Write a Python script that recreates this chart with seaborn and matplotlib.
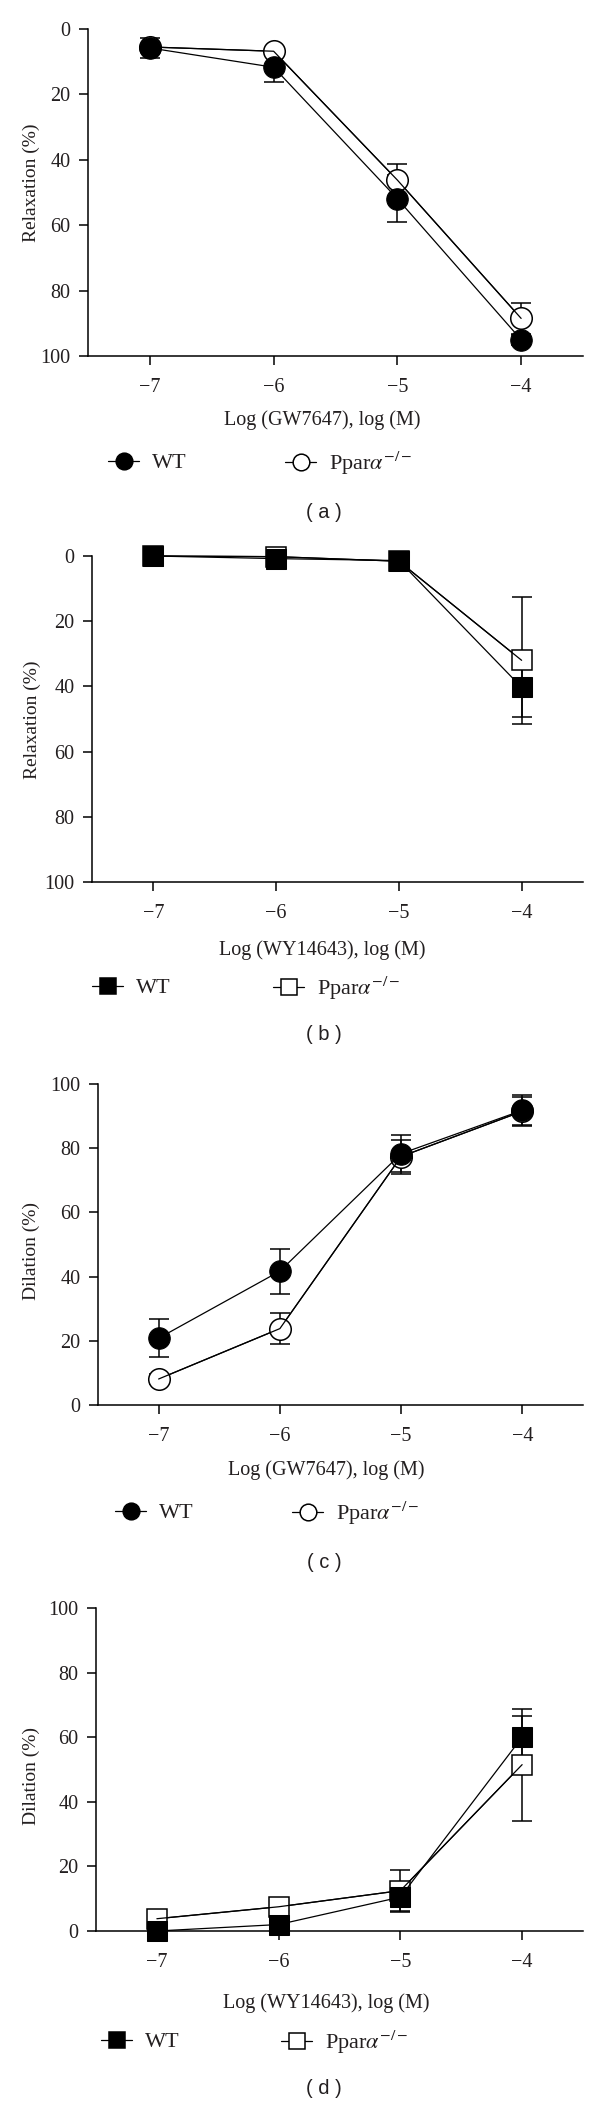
import pandas as pd
import seaborn as sns
import matplotlib
matplotlib.use("Agg")
import matplotlib.pyplot as plt
from matplotlib.lines import Line2D

# concentrations, log(M)
conc = [-7, -6, -5, -4]

# (a) GW7647, relaxation (%)
a_wt = [5.8, 11.7, 51.9, 95.0]
a_wt_err = [3.2, 4.4, 7.2, 1.5]
a_ko = [5.5, 6.8, 46.2, 88.5]
a_ko_err = [1.0, 1.0, 4.8, 4.7]

# (b) WY14643, relaxation (%)
b_wt = [0.0, 0.8, 1.4, 40.3]
b_wt_err = [0.5, 0.5, 0.5, 9.2]
b_ko = [0.0, 0.2, 1.6, 32.0]
b_ko_err = [0.3, 0.5, 0.5, 19.5]

# (c) GW7647, dilation (%)
c_wt = [20.8, 41.7, 78.3, 91.8]
c_wt_err = [6.0, 7.0, 5.8, 4.7]
c_ko = [8.1, 23.8, 77.4, 91.5]
c_ko_err = [1.5, 4.8, 5.3, 4.5]

# (d) WY14643, dilation (%)
d_wt = [0.0, 2.0, 10.5, 60.0]
d_wt_err = [1.0, 1.5, 4.2, 6.5]
d_ko = [3.8, 7.5, 12.5, 51.5]
d_ko_err = [1.0, 1.0, 6.5, 17.3]

yticks = [0, 20, 40, 60, 80, 100]
genotypes = ["WT", r"Ppar$\alpha^{-/-}$"]

W, H = 600, 2104
INK = "#231f20"

sns.set_style("ticks")
plt.rcParams["font.family"] = ["Liberation Serif", "DejaVu Serif"]
plt.rcParams["mathtext.fontset"] = "stix"
plt.rcParams["text.color"] = INK
plt.rcParams["axes.labelcolor"] = INK
plt.rcParams["xtick.color"] = INK
plt.rcParams["ytick.color"] = INK


def fx(x):
    return x / W


def fy(y):
    return 1 - y / H


# layout in pixels of the 600x2104 picture
panels = [
    dict(tag="a", wt=a_wt, wt_err=a_wt_err, ko=a_ko, ko_err=a_ko_err, marker="o", invert=True,
         ylabel="Relaxation (%)", xlabel="Log (GW7647), log (M)",
         box=(88, 29, 583, 356), ylab=(31, 183), xlab=(322, 420), leg_y=463, leg_x=(108, 285), cap=(324, 512)),
    dict(tag="b", wt=b_wt, wt_err=b_wt_err, ko=b_ko, ko_err=b_ko_err, marker="s", invert=True,
         ylabel="Relaxation (%)", xlabel="Log (WY14643), log (M)",
         box=(92, 556, 583, 882), ylab=(32, 720), xlab=(322, 950), leg_y=988, leg_x=(92, 273), cap=(324, 1035)),
    dict(tag="c", wt=c_wt, wt_err=c_wt_err, ko=c_ko, ko_err=c_ko_err, marker="o", invert=False,
         ylabel="Dilation (%)", xlabel="Log (GW7647), log (M)",
         box=(98, 1084, 583, 1405), ylab=(31, 1251), xlab=(326, 1470), leg_y=1513, leg_x=(115, 292), cap=(324, 1562)),
    dict(tag="d", wt=d_wt, wt_err=d_wt_err, ko=d_ko, ko_err=d_ko_err, marker="s", invert=False,
         ylabel="Dilation (%)", xlabel="Log (WY14643), log (M)",
         box=(96, 1608, 583, 1931), ylab=(31, 1776), xlab=(326, 2003), leg_y=2042, leg_x=(101, 281), cap=(324, 2088)),
]

fig = plt.figure(figsize=(W / 100, H / 100), dpi=100)

for p in panels:
    x0, y0, x1, y1 = p["box"]
    ax = fig.add_axes([fx(x0), fy(y1), (x1 - x0) / W, (y1 - y0) / H])
    ms = 15.5 if p["marker"] == "o" else 14.5

    df = pd.DataFrame({"conc": conc * 2,
                       "value": p["wt"] + p["ko"],
                       "err": p["wt_err"] + p["ko_err"],
                       "genotype": [genotypes[0]] * 4 + [genotypes[1]] * 4})
    wt_df = df[df["genotype"] == genotypes[0]]
    ko_df = df[df["genotype"] == genotypes[1]]

    # error bars below everything
    for sub in (ko_df, wt_df):
        ax.errorbar(sub["conc"], sub["value"], yerr=sub["err"], fmt="none", ecolor="black",
                    elinewidth=1.1, capsize=7, capthick=1.1, zorder=1, clip_on=False)

    # knockout: open markers, line drawn over the white fill
    sns.lineplot(data=ko_df, x="conc", y="value", color="black", marker=p["marker"], markersize=ms,
                 markerfacecolor="white", markeredgecolor="black", markeredgewidth=1.1,
                 linewidth=0.9, errorbar=None, ax=ax, zorder=3, clip_on=False)
    sns.lineplot(data=ko_df, x="conc", y="value", color="black", linewidth=0.9, errorbar=None, ax=ax,
                 zorder=3.5, clip_on=False)
    # wild type: filled markers on top
    sns.lineplot(data=wt_df, x="conc", y="value", color="black", marker=p["marker"], markersize=ms,
                 markerfacecolor="black", markeredgecolor="black", linewidth=0.9, errorbar=None, ax=ax,
                 zorder=4, clip_on=False)

    ax.set_xlim(-7.5, -3.5)
    ax.set_xticks(conc)
    ax.set_yticks(yticks)
    if p["invert"]:
        ax.set_ylim(100, 0)
    else:
        ax.set_ylim(0, 100)
    sns.despine(ax=ax)
    for s in ("left", "bottom"):
        ax.spines[s].set_linewidth(1.1)
        ax.spines[s].set_color("black")
    ax.tick_params(axis="both", direction="out", length=6.5, width=1.1, color="black", labelsize=14.5)
    ax.tick_params(axis="x", pad=9)
    ax.tick_params(axis="y", pad=6)
    ax.set_facecolor("white")

    ax.set_xlabel(p["xlabel"], fontsize=14.5)
    ax.xaxis.label.set_va("center")
    ax.xaxis.set_label_coords(fx(p["xlab"][0]), fy(p["xlab"][1]), transform=fig.transFigure)
    ax.set_ylabel(p["ylabel"], fontsize=14)
    ax.yaxis.label.set_va("center")
    ax.yaxis.set_label_coords(fx(p["ylab"][0]), fy(p["ylab"][1]), transform=fig.transFigure)

    # legend: one entry per box so each sits where the original has it
    for i, (name, face) in enumerate(zip(genotypes, ["black", "white"])):
        h = Line2D([], [], color="black", lw=0.9, marker=p["marker"], markersize=12,
                   markerfacecolor=face, markeredgecolor="black", markeredgewidth=1.1)
        fig.legend([h], [name], loc="center left",
                   bbox_to_anchor=(fx(p["leg_x"][i]), fy(p["leg_y"])),
                   frameon=False, fontsize=16, handlelength=1.4, handletextpad=0.6,
                   borderpad=0, borderaxespad=0)

    fig.text(fx(p["cap"][0]), fy(p["cap"][1]), "( %s )" % p["tag"], ha="center", va="center",
             fontsize=14.5, family=["Liberation Sans", "DejaVu Sans"], color=INK)

fig.savefig("out.png", dpi=100, facecolor="white")
